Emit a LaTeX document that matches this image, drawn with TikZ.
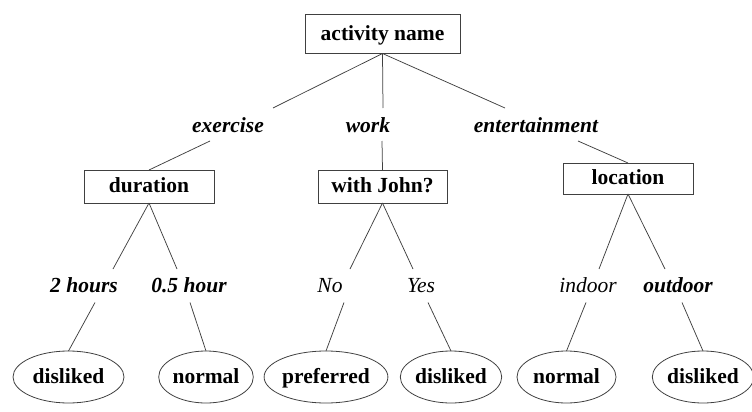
\documentclass[tikz,border=0pt]{standalone}
\usepackage{fontspec}
\setmainfont{LiberationSerif}[Extension=.ttf, UprightFont=*-Regular, BoldFont=*-Bold, ItalicFont=*-Italic, BoldItalicFont=*-BoldItalic]
\usepackage{tikz}
\usetikzlibrary{calc, shapes.geometric, positioning}
\tikzset{
  treebox/.style={draw=black!75, line width=0.8pt, rectangle, inner sep=0pt, outer sep=0pt, font=\rmfamily\bfseries, text height=0.8em, text depth=0.2em},
  leafnode/.style={draw=black!75, line width=0.8pt, ellipse, minimum height=52, inner sep=0pt, outer sep=0pt, font=\rmfamily\bfseries, text height=0.8em, text depth=0.2em},
  arclabel/.style={inner sep=0pt, font=\rmfamily\bfseries\itshape, text height=0.8em, text depth=0.2em},
  arclabelthin/.style={arclabel, font=\rmfamily\itshape},
  treeline/.style={draw=black!75, line width=0.75pt}
}
\newcommand\branchto[3]{\draw[treeline] (#1) -- ([shift={(#3)}]#2.center);}
\newcommand\branchfrom[3]{\draw[treeline] ([shift={(#2)}]#1.center) -- (#3);}

\begin{document}
\begin{tikzpicture}[x=1pt, y=-1pt]
\fontsize{21.5}{24}\selectfont
\useasboundingbox (0,0) rectangle (752,412);

% root and tests
\node[treebox, minimum width=155, minimum height=39] (root) at (382.5,34) {activity name};
\node[treebox, minimum width=130, minimum height=33] (dur) at (149,186.5) {duration};
\node[treebox, minimum width=129, minimum height=33] (john) at (382.5,186.5) {with John?};
\node[treebox, minimum width=130, minimum height=31] (loc) at (628,178.5) {location};

% values
\node[arclabel] (exer) at (228,126) {exercise};
\node[arclabel] (work) at (368,126) {work};
\node[arclabel] (ent) at (536,126) {entertainment};

\node[arclabel] (twoh) at (84,286) {2 hours};
\node[arclabel] (half) at (189,286) {0.5 hour};
\node[arclabelthin] (no) at (330,286) {No};
\node[arclabelthin] (yes) at (421,286) {Yes};
\node[arclabelthin] (ind) at (588,286) {indoor};
\node[arclabel] (outd) at (678,286) {outdoor};

% leaves
\node[leafnode, minimum width=111] (dis1) at (68.5,377) {disliked};
\node[leafnode, minimum width=88] (nor1) at (206,377) {normal};
\node[leafnode, minimum width=98] (pref) at (326,377) {preferred};
\node[leafnode, minimum width=96] (dis2) at (451,377) {disliked};
\node[leafnode, minimum width=99] (nor2) at (566.5,377) {normal};
\node[leafnode, minimum width=93] (dis3) at (703,377) {disliked};

% first level
\branchto{root.south}{exer}{45,-18}
\branchto{root.south}{work}{15,-18}
\branchto{root.south}{ent}{-31,-18}
\branchfrom{exer}{-18,15}{dur.north}
\branchfrom{work}{14,15}{john.north}
\branchfrom{ent}{42,15}{loc.north}

% second level
\branchto{dur.south}{twoh}{29,-17}
\branchto{dur.south}{half}{-12,-17}
\branchto{john.south}{no}{20,-17}
\branchto{john.south}{yes}{-8,-17}
\branchto{loc.south}{ind}{11,-17}
\branchto{loc.south}{outd}{-13,-17}

\branchfrom{twoh}{11,16.5}{dis1.north}
\branchfrom{half}{1,16.5}{nor1.north}
\branchfrom{no}{14,16.5}{pref.north}
\branchfrom{yes}{7,16.5}{dis2.north}
\branchfrom{ind}{-2,16.5}{nor2.north}
\branchfrom{outd}{4,16.5}{dis3.north}
\end{tikzpicture}
\end{document}
